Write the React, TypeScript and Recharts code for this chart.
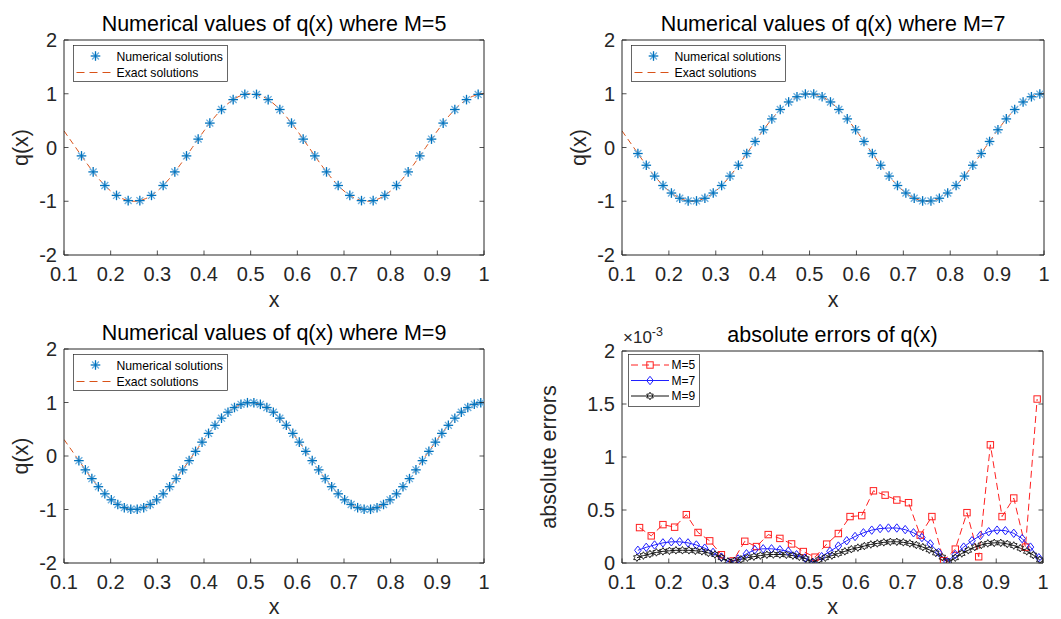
import React from "react";
import { ComposedChart, Line, Scatter, XAxis, YAxis, Legend } from "recharts";

const FONT = '"Liberation Sans", Arial, Helvetica, sans-serif';
const INK = "#262626";
const NUM_BLUE = "#0072BD";
const NUM_LIGHT = "#6aaede";
const EXACT_ORANGE = "#D95319";

// axis ticks
const xTicks = [0.1, 0.2, 0.3, 0.4, 0.5, 0.6, 0.7, 0.8, 0.9, 1];
const qTicks = [-2, -1, 0, 1, 2];
const errTicks = [0, 0.5, 1, 1.5, 2];

// exact solution, sampled off the dashed curve
const xExact = [0.1, 0.125, 0.15, 0.175, 0.2, 0.225, 0.25, 0.275, 0.3, 0.325, 0.35, 0.375, 0.4, 0.425, 0.45, 0.475, 0.5, 0.525, 0.55, 0.575, 0.6, 0.625, 0.65, 0.675, 0.7, 0.725, 0.75, 0.775, 0.8, 0.825, 0.85, 0.875, 0.9, 0.925, 0.95, 0.975, 1];
const qExact = [0.309, 0, -0.309, -0.588, -0.809, -0.951, -1, -0.951, -0.809, -0.588, -0.309, 0, 0.309, 0.588, 0.809, 0.951, 1, 0.951, 0.809, 0.588, 0.309, 0, -0.309, -0.588, -0.809, -0.951, -1, -0.951, -0.809, -0.588, -0.309, 0, 0.309, 0.588, 0.809, 0.951, 1];

// M=5 numerical points
const x5 = [0.1375, 0.1625, 0.1875, 0.2125, 0.2375, 0.2625, 0.2875, 0.3125, 0.3375, 0.3625, 0.3875, 0.4125, 0.4375, 0.4625, 0.4875, 0.5125, 0.5375, 0.5625, 0.5875, 0.6125, 0.6375, 0.6625, 0.6875, 0.7125, 0.7375, 0.7625, 0.7875, 0.8125, 0.8375, 0.8625, 0.8875, 0.9125, 0.9375, 0.9625, 0.9875];
const q5 = [-0.156, -0.454, -0.707, -0.891, -0.988, -0.988, -0.891, -0.707, -0.454, -0.156, 0.156, 0.454, 0.707, 0.891, 0.988, 0.988, 0.891, 0.707, 0.454, 0.156, -0.156, -0.454, -0.707, -0.891, -0.988, -0.988, -0.891, -0.707, -0.454, -0.156, 0.156, 0.454, 0.707, 0.891, 0.988];

// M=7 numerical points
const x7 = [0.1339, 0.1518, 0.1696, 0.1875, 0.2054, 0.2232, 0.2411, 0.2589, 0.2768, 0.2946, 0.3125, 0.3304, 0.3482, 0.3661, 0.3839, 0.4018, 0.4196, 0.4375, 0.4554, 0.4732, 0.4911, 0.5089, 0.5268, 0.5446, 0.5625, 0.5804, 0.5982, 0.6161, 0.6339, 0.6518, 0.6696, 0.6875, 0.7054, 0.7232, 0.7411, 0.7589, 0.7768, 0.7946, 0.8125, 0.8304, 0.8482, 0.8661, 0.8839, 0.9018, 0.9196, 0.9375, 0.9554, 0.9732, 0.9911];
const q7 = [-0.112, -0.33, -0.532, -0.707, -0.847, -0.944, -0.994, -0.994, -0.944, -0.847, -0.707, -0.532, -0.33, -0.112, 0.112, 0.33, 0.532, 0.707, 0.847, 0.944, 0.994, 0.994, 0.944, 0.847, 0.707, 0.532, 0.33, 0.112, -0.112, -0.33, -0.532, -0.707, -0.847, -0.944, -0.994, -0.994, -0.944, -0.847, -0.707, -0.532, -0.33, -0.112, 0.112, 0.33, 0.532, 0.707, 0.847, 0.944, 0.994];

// M=9 numerical points
const x9 = [0.1319, 0.1458, 0.1597, 0.1736, 0.1875, 0.2014, 0.2153, 0.2292, 0.2431, 0.2569, 0.2708, 0.2847, 0.2986, 0.3125, 0.3264, 0.3403, 0.3542, 0.3681, 0.3819, 0.3958, 0.4097, 0.4236, 0.4375, 0.4514, 0.4653, 0.4792, 0.4931, 0.5069, 0.5208, 0.5347, 0.5486, 0.5625, 0.5764, 0.5903, 0.6042, 0.6181, 0.6319, 0.6458, 0.6597, 0.6736, 0.6875, 0.7014, 0.7153, 0.7292, 0.7431, 0.7569, 0.7708, 0.7847, 0.7986, 0.8125, 0.8264, 0.8403, 0.8542, 0.8681, 0.8819, 0.8958, 0.9097, 0.9236, 0.9375, 0.9514, 0.9653, 0.9792, 0.9931];
const q9 = [-0.087, -0.259, -0.423, -0.574, -0.707, -0.819, -0.906, -0.966, -0.996, -0.996, -0.966, -0.906, -0.819, -0.707, -0.574, -0.423, -0.259, -0.087, 0.087, 0.259, 0.423, 0.574, 0.707, 0.819, 0.906, 0.966, 0.996, 0.996, 0.966, 0.906, 0.819, 0.707, 0.574, 0.423, 0.259, 0.087, -0.087, -0.259, -0.423, -0.574, -0.707, -0.819, -0.906, -0.966, -0.996, -0.996, -0.966, -0.906, -0.819, -0.707, -0.574, -0.423, -0.259, -0.087, 0.087, 0.259, 0.423, 0.574, 0.707, 0.819, 0.906, 0.966, 0.996];

// absolute errors, in units of 1e-3
const err5 = [0.334, 0.256, 0.362, 0.338, 0.456, 0.288, 0.209, 0.078, 0.02, 0.205, 0.155, 0.268, 0.232, 0.18, 0.108, 0.055, 0.178, 0.278, 0.438, 0.447, 0.681, 0.64, 0.594, 0.569, 0.263, 0.438, 0.022, 0.131, 0.475, 0.059, 1.115, 0.438, 0.613, 0.15, 1.547];
const err7 = [0.12, 0.148, 0.17, 0.19, 0.2, 0.2, 0.19, 0.17, 0.14, 0.1, 0.056, 0.003, 0.038, 0.087, 0.125, 0.134, 0.134, 0.125, 0.11, 0.078, 0.047, 0.003, 0.06, 0.11, 0.16, 0.21, 0.25, 0.285, 0.31, 0.325, 0.33, 0.33, 0.315, 0.285, 0.24, 0.18, 0.1, 0.01, 0.08, 0.15, 0.21, 0.26, 0.295, 0.31, 0.305, 0.28, 0.23, 0.15, 0.05];
const err9 = [0.05, 0.07, 0.085, 0.1, 0.11, 0.115, 0.12, 0.12, 0.12, 0.115, 0.11, 0.095, 0.08, 0.05, 0.015, 0.02, 0.035, 0.05, 0.06, 0.07, 0.078, 0.08, 0.08, 0.077, 0.07, 0.058, 0.04, 0.01, 0.03, 0.05, 0.07, 0.09, 0.11, 0.13, 0.145, 0.16, 0.175, 0.185, 0.195, 0.2, 0.2, 0.195, 0.185, 0.17, 0.15, 0.125, 0.095, 0.055, 0.01, 0.05, 0.09, 0.12, 0.15, 0.17, 0.185, 0.19, 0.19, 0.18, 0.165, 0.14, 0.11, 0.075, 0.03];

const zip = (xs: number[], ys: number[]) => xs.map((x, i) => ({ x, y: ys[i] }));

type Box = { top: number; right: number; bottom: number; left: number };

// axes are 1px thick (0 would make recharts skip them), so shave that off the margins
const chartMargin = (m: Box): Box => ({ top: m.top - 1, right: m.right - 1, bottom: m.bottom - 1, left: m.left - 1 });

const tickText = { fontSize: 20, fontFamily: FONT, fill: INK };
const labelText = { fontSize: 21.5, fontFamily: FONT, fill: INK };

// MATLAB style: ticks point inwards on all four sides
function BottomTick(p: any) {
  return (
    <g>
      <line x1={p.x} x2={p.x} y1={p.y} y2={p.y - 4.5} stroke={INK} strokeWidth={0.8} />
      <text x={p.x} y={p.y + 26} textAnchor="middle" {...tickText}>{String(p.payload.value)}</text>
    </g>
  );
}
function TopTick(p: any) {
  return <line x1={p.x} x2={p.x} y1={p.y} y2={p.y + 4.5} stroke={INK} strokeWidth={0.8} />;
}
function LeftTick(p: any) {
  return (
    <g>
      <line x1={p.x} x2={p.x + 4.5} y1={p.y} y2={p.y} stroke={INK} strokeWidth={0.8} />
      <text x={p.x - 7} y={p.y + 7} textAnchor="end" {...tickText}>{String(p.payload.value)}</text>
    </g>
  );
}
function RightTick(p: any) {
  return <line x1={p.x} x2={p.x - 4.5} y1={p.y} y2={p.y} stroke={INK} strokeWidth={0.8} />;
}

function Star({ cx, cy }: { cx: number; cy: number }) {
  const r = 4.8;
  const d = r * 0.72;
  return (
    <g>
      <line x1={cx - d} y1={cy - d} x2={cx + d} y2={cy + d} stroke={NUM_LIGHT} strokeWidth={1.3} />
      <line x1={cx - d} y1={cy + d} x2={cx + d} y2={cy - d} stroke={NUM_LIGHT} strokeWidth={1.3} />
      <line x1={cx - r} y1={cy} x2={cx + r} y2={cy} stroke={NUM_BLUE} strokeWidth={1.3} />
      <line x1={cx} y1={cy - r} x2={cx} y2={cy + r} stroke={NUM_BLUE} strokeWidth={1.3} />
    </g>
  );
}

function Square({ cx, cy }: { cx: number; cy: number }) {
  return <rect x={cx - 3.2} y={cy - 3.2} width={6.4} height={6.4} fill="none" stroke="#ff2020" strokeWidth={1} />;
}
function Diamond({ cx, cy }: { cx: number; cy: number }) {
  return <path d={`M${cx},${cy - 4.2}L${cx + 3.3},${cy}L${cx},${cy + 4.2}L${cx - 3.3},${cy}Z`} fill="none" stroke="#2020ff" strokeWidth={1} />;
}
function Hexagram({ cx, cy }: { cx: number; cy: number }) {
  let d = "";
  for (let i = 0; i < 12; i++) {
    const a = -Math.PI / 2 + (i * Math.PI) / 6;
    const rad = i % 2 === 0 ? 3.8 : 2.2;
    d += (i === 0 ? "M" : "L") + (cx + rad * Math.cos(a)).toFixed(2) + "," + (cy + rad * Math.sin(a)).toFixed(2);
  }
  return <path d={d + "Z"} fill="none" stroke="#111" strokeWidth={0.9} />;
}

function QLegend() {
  return (
    <svg width={155} height={37} style={{ display: "block" }}>
      <rect x={0.5} y={0.5} width={154} height={36} fill="#fff" stroke={INK} strokeWidth={0.7} />
      <Star cx={22.5} cy={11} />
      <text x={43.5} y={15.5} fontSize={12.2} fontFamily={FONT} fill="#000">Numerical solutions</text>
      <line x1={3.5} x2={41} y1={27.5} y2={27.5} stroke={EXACT_ORANGE} strokeWidth={1} strokeDasharray="8 5" />
      <text x={43.5} y={31.5} fontSize={12.2} fontFamily={FONT} fill="#000">Exact solutions</text>
    </svg>
  );
}

function ErrLegend() {
  const rows = [
    { name: "M=5", color: "#ff2020", dash: "7 4", Mark: Square },
    { name: "M=7", color: "#2020ff", dash: undefined, Mark: Diamond },
    { name: "M=9", color: "#111", dash: undefined, Mark: Hexagram },
  ];
  return (
    <svg width={72} height={53} style={{ display: "block" }}>
      <rect x={0.5} y={0.5} width={71} height={52} fill="#fff" stroke={INK} strokeWidth={0.7} />
      {rows.map((r, i) => {
        const y = 11 + i * 15.5;
        return (
          <g key={r.name}>
            <line x1={3} x2={41} y1={y} y2={y} stroke={r.color} strokeWidth={1} strokeDasharray={r.dash} />
            <r.Mark cx={22} cy={y} />
            <text x={43.5} y={y + 4.3} fontSize={12} fontFamily={FONT} fill="#000">{r.name}</text>
          </g>
        );
      })}
    </svg>
  );
}

type QPanelProps = { left: number; top: number; width: number; height: number; margin: Box; title: string; xs: number[]; qs: number[]; xLabelGap: number };

function QPanel({ left, top, width, height, margin, title, xs, qs, xLabelGap }: QPanelProps) {
  const pw = width - margin.left - margin.right;
  const ph = height - margin.top - margin.bottom;
  const cx = margin.left + pw / 2;
  return (
    <div style={{ position: "absolute", left, top }}>
      <ComposedChart width={width} height={height} margin={chartMargin(margin)}>
        <XAxis type="number" dataKey="x" domain={[0.1, 1]} ticks={xTicks} interval={0} allowDataOverflow height={1} tickSize={0} tickMargin={0} tickLine={false} tick={BottomTick} axisLine={{ stroke: INK }}
          label={() => <text x={cx} y={margin.top + ph + xLabelGap} textAnchor="middle" {...labelText}>x</text>} />
        <XAxis xAxisId="top" orientation="top" type="number" domain={[0.1, 1]} ticks={xTicks} interval={0} allowDataOverflow height={1} tickSize={0} tickMargin={0} tickLine={false} tick={TopTick} axisLine={{ stroke: INK }}
          label={() => <text x={cx} y={margin.top - 9} textAnchor="middle" {...labelText} fill="#000">{title}</text>} />
        <YAxis type="number" domain={[-2, 2]} ticks={qTicks} interval={0} allowDataOverflow width={1} tickSize={0} tickMargin={0} tickLine={false} tick={LeftTick} axisLine={{ stroke: INK }}
          label={() => <text transform={`translate(${margin.left - 36},${margin.top + ph / 2}) rotate(-90)`} textAnchor="middle" {...labelText}>q(x)</text>} />
        <YAxis yAxisId="right" orientation="right" type="number" domain={[-2, 2]} ticks={qTicks} interval={0} allowDataOverflow width={1} tickSize={0} tickMargin={0} tickLine={false} tick={RightTick} axisLine={{ stroke: INK }} />
        <Line data={zip(xExact, qExact)} dataKey="y" type="monotone" stroke={EXACT_ORANGE} strokeWidth={1} strokeDasharray="6 4" dot={false} activeDot={false} isAnimationActive={false} />
        <Scatter data={zip(xs, qs)} dataKey="y" shape={(p: any) => <Star cx={p.cx} cy={p.cy} />} isAnimationActive={false} />
        <Legend layout="vertical" align="center" verticalAlign="middle" wrapperStyle={{ left: margin.left + 8.5, top: margin.top + 5, width: "auto" }} content={() => <QLegend />} />
      </ComposedChart>
    </div>
  );
}

function ErrPanel() {
  const width = 531;
  const height = 309;
  const margin = { top: 41, right: 18, bottom: 56, left: 92 };
  const pw = width - margin.left - margin.right;
  const ph = height - margin.top - margin.bottom;
  const cx = margin.left + pw / 2;
  return (
    <div style={{ position: "absolute", left: 530, top: 310 }}>
      <ComposedChart width={width} height={height} margin={chartMargin(margin)}>
        <XAxis type="number" dataKey="x" domain={[0.1, 1]} ticks={xTicks} interval={0} allowDataOverflow height={1} tickSize={0} tickMargin={0} tickLine={false} tick={BottomTick} axisLine={{ stroke: INK }}
          label={() => <text x={cx} y={margin.top + ph + 51} textAnchor="middle" {...labelText}>x</text>} />
        <XAxis xAxisId="top" orientation="top" type="number" domain={[0.1, 1]} ticks={xTicks} interval={0} allowDataOverflow height={1} tickSize={0} tickMargin={0} tickLine={false} tick={TopTick} axisLine={{ stroke: INK }}
          label={() => (
            <g>
              <text x={cx} y={margin.top - 9} textAnchor="middle" {...labelText} fill="#000">absolute errors of q(x)</text>
              <text x={margin.left + 1} y={margin.top - 8} fontSize={17} fontFamily={FONT} fill={INK}>
                ×10<tspan fontSize={12.5} dy={-7}>-3</tspan>
              </text>
            </g>
          )} />
        <YAxis type="number" domain={[0, 2]} ticks={errTicks} interval={0} allowDataOverflow width={1} tickSize={0} tickMargin={0} tickLine={false} tick={LeftTick} axisLine={{ stroke: INK }}
          label={() => <text transform={`translate(${margin.left - 66},${margin.top + ph / 2}) rotate(-90)`} textAnchor="middle" {...labelText}>absolute errors</text>} />
        <YAxis yAxisId="right" orientation="right" type="number" domain={[0, 2]} ticks={errTicks} interval={0} allowDataOverflow width={1} tickSize={0} tickMargin={0} tickLine={false} tick={RightTick} axisLine={{ stroke: INK }} />
        <Line data={zip(x5, err5)} dataKey="y" type="linear" stroke="#ff2020" strokeWidth={1} strokeDasharray="7 4" dot={(p: any) => <Square key={`s${p.index}`} cx={p.cx} cy={p.cy} />} activeDot={false} isAnimationActive={false} />
        <Line data={zip(x7, err7)} dataKey="y" type="linear" stroke="#2020ff" strokeWidth={1} dot={(p: any) => <Diamond key={`d${p.index}`} cx={p.cx} cy={p.cy} />} activeDot={false} isAnimationActive={false} />
        <Line data={zip(x9, err9)} dataKey="y" type="linear" stroke="#111" strokeWidth={1} dot={(p: any) => <Hexagram key={`h${p.index}`} cx={p.cx} cy={p.cy} />} activeDot={false} isAnimationActive={false} />
        <Legend layout="vertical" align="center" verticalAlign="middle" wrapperStyle={{ left: margin.left + 6.3, top: margin.top + 3, width: "auto" }} content={() => <ErrLegend />} />
      </ComposedChart>
    </div>
  );
}

export default function App() {
  return (
    <div style={{ position: "absolute", left: 0, top: 0, width: 1061, height: 619, background: "#fff", fontFamily: FONT, overflow: "hidden" }}>
      <QPanel left={0} top={0} width={530} height={320} margin={{ top: 40, right: 46, bottom: 65, left: 64 }} title="Numerical values of q(x) where M=5" xs={x5} qs={q5} xLabelGap={52} />
      <QPanel left={530} top={0} width={531} height={320} margin={{ top: 40, right: 17, bottom: 65, left: 92 }} title="Numerical values of q(x) where M=7" xs={x7} qs={q7} xLabelGap={52} />
      <QPanel left={0} top={310} width={530} height={309} margin={{ top: 39, right: 46, bottom: 56, left: 64 }} title="Numerical values of q(x) where M=9" xs={x9} qs={q9} xLabelGap={51} />
      <ErrPanel />
    </div>
  );
}
